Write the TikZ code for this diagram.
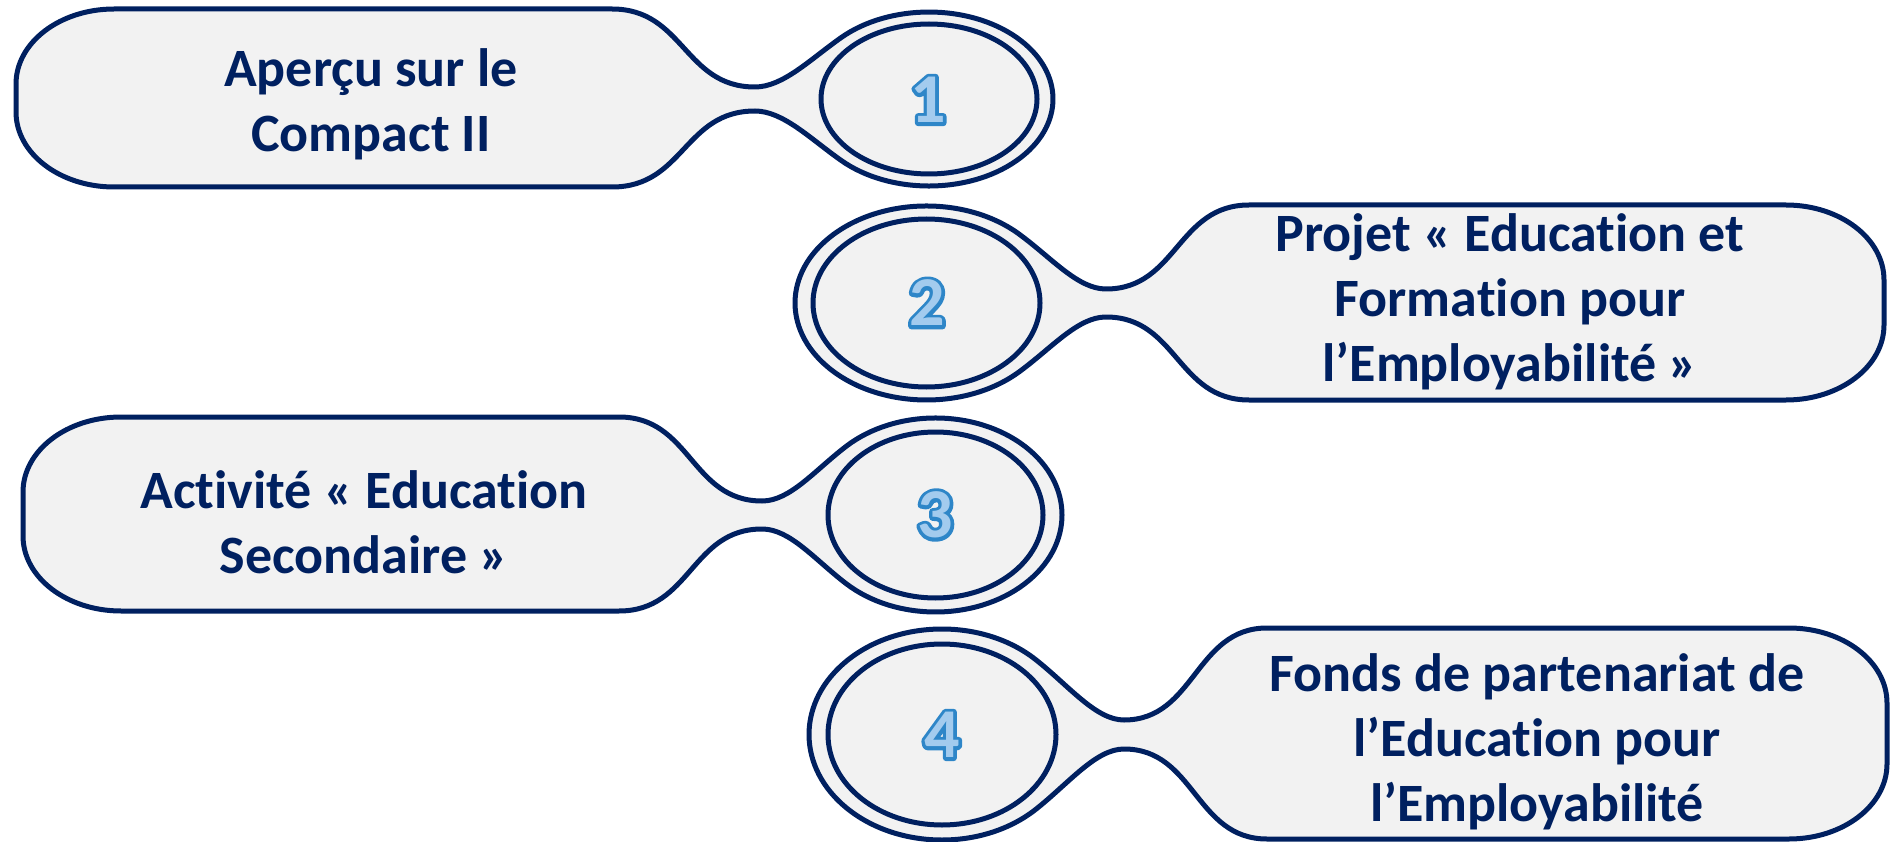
\documentclass[tikz,border=0pt]{standalone}
\usepackage{fontspec}
\setmainfont{Carlito}[Ligatures=NoCommon]
\definecolor{navy}{HTML}{002060}
\definecolor{boxfill}{HTML}{F2F2F2}
\definecolor{digitline}{HTML}{2E86C8}
\definecolor{digitfill}{HTML}{A3CBEE}
\newcommand\ringdigit[1]{\leavevmode
  \rlap{\special{pdf:literal direct 1 Tr 7 w 1 j 0.180 0.525 0.784 RG}#1\special{pdf:literal direct 0 Tr}}%
  \textcolor{digitfill}{#1}}
\begin{document}
\begin{tikzpicture}[x=1pt,y=1pt,yscale=-1,
  pill/.style={draw=navy, line width=5pt, fill=boxfill, line join=round},
  txtlabel/.style={text=navy, align=center, inner sep=0pt,
    font=\fontsize{54}{65}\selectfont\bfseries},
  numtxt/.style={inner sep=0pt, font=\fontsize{70}{70}\selectfont\bfseries}]
\useasboundingbox (0,0) rectangle (1890,842);

% shape 1
\draw[pill] (16,84) arc[start angle=180, end angle=270, x radius=98, y radius=75]
  -- (612,9) .. controls (684,9) and (684,87) .. (755,87)
  .. controls (783,87) and (810.3,59.25) .. (841.3,37.5)
  arc[start angle=225, end angle=495, x radius=124, y radius=87]
  .. controls (810.3,138.75) and (783,111) .. (755,111)
  .. controls (684,111) and (684,187) .. (612,187)
  -- (114,187) arc[start angle=90, end angle=180, x radius=98, y radius=75] -- cycle;
\draw[pill] (929,99) ellipse [x radius=108, y radius=75];

% shape 2
\draw[pill] (1884,280) arc[start angle=0, end angle=-90, x radius=98, y radius=75]
  -- (1249,205) .. controls (1177,205) and (1177,289) .. (1106,289)
  .. controls (1078,289) and (1052.4,258.65) .. (1019.5,234.4)
  arc[start angle=-45, end angle=-315, x radius=131.5, y radius=97]
  .. controls (1052.4,347.35) and (1078,317) .. (1106,317)
  .. controls (1177,317) and (1177,400) .. (1249,400)
  -- (1786,400) arc[start angle=90, end angle=0, x radius=98, y radius=75] -- cycle;
\draw[pill] (926.5,303) ellipse [x radius=113.5, y radius=84];

% shape 3
\draw[pill] (23,492) arc[start angle=180, end angle=270, x radius=98, y radius=75]
  -- (619,417) .. controls (691,417) and (691,501) .. (762,501)
  .. controls (790,501) and (814.4,470.65) .. (846.05,446.4)
  arc[start angle=225, end angle=495, x radius=126.5, y radius=97]
  .. controls (814.4,559.35) and (790,529) .. (762,529)
  .. controls (691,529) and (691,611) .. (619,611)
  -- (121,611) arc[start angle=90, end angle=180, x radius=98, y radius=75] -- cycle;
\draw[pill] (935.5,515) ellipse [x radius=107.5, y radius=83];

% shape 4
\draw[pill] (1887,703) arc[start angle=0, end angle=-90, x radius=98, y radius=75]
  -- (1267,628) .. controls (1195,628) and (1195,720) .. (1124,720)
  .. controls (1096,720) and (1069.3,686.3) .. (1036.05,659.9)
  arc[start angle=-45, end angle=-315, x radius=133, y radius=105.5]
  .. controls (1069.3,782.7) and (1096,749) .. (1124,749)
  .. controls (1195,749) and (1195,839) .. (1267,839)
  -- (1789,839) arc[start angle=90, end angle=0, x radius=98, y radius=75] -- cycle;
\draw[pill] (942,734.5) ellipse [x radius=114, y radius=90.5];

% texts
\node[txtlabel] (t1) at (371,104) {Aperçu sur le\\Compact II};
\node[txtlabel] (t2) at (1510,302) {Projet « Education et\\Formation pour\\l’Employabilité »};
\node[txtlabel] (t3) at (364,522) {Activité « Education\\Secondaire »};
\node[txtlabel] (t4) at (1537,742) {Fonds de partenariat de\\l’Education pour\\l’Employabilité};

% digits
\node[numtxt] (d1) at (928,100) {\ringdigit{1}};
\node[numtxt] (d2) at (927,303) {\ringdigit{2}};
\node[numtxt] (d3) at (935,515) {\ringdigit{3}};
\node[numtxt] (d4) at (942,735) {\ringdigit{4}};
\end{tikzpicture}
\end{document}
